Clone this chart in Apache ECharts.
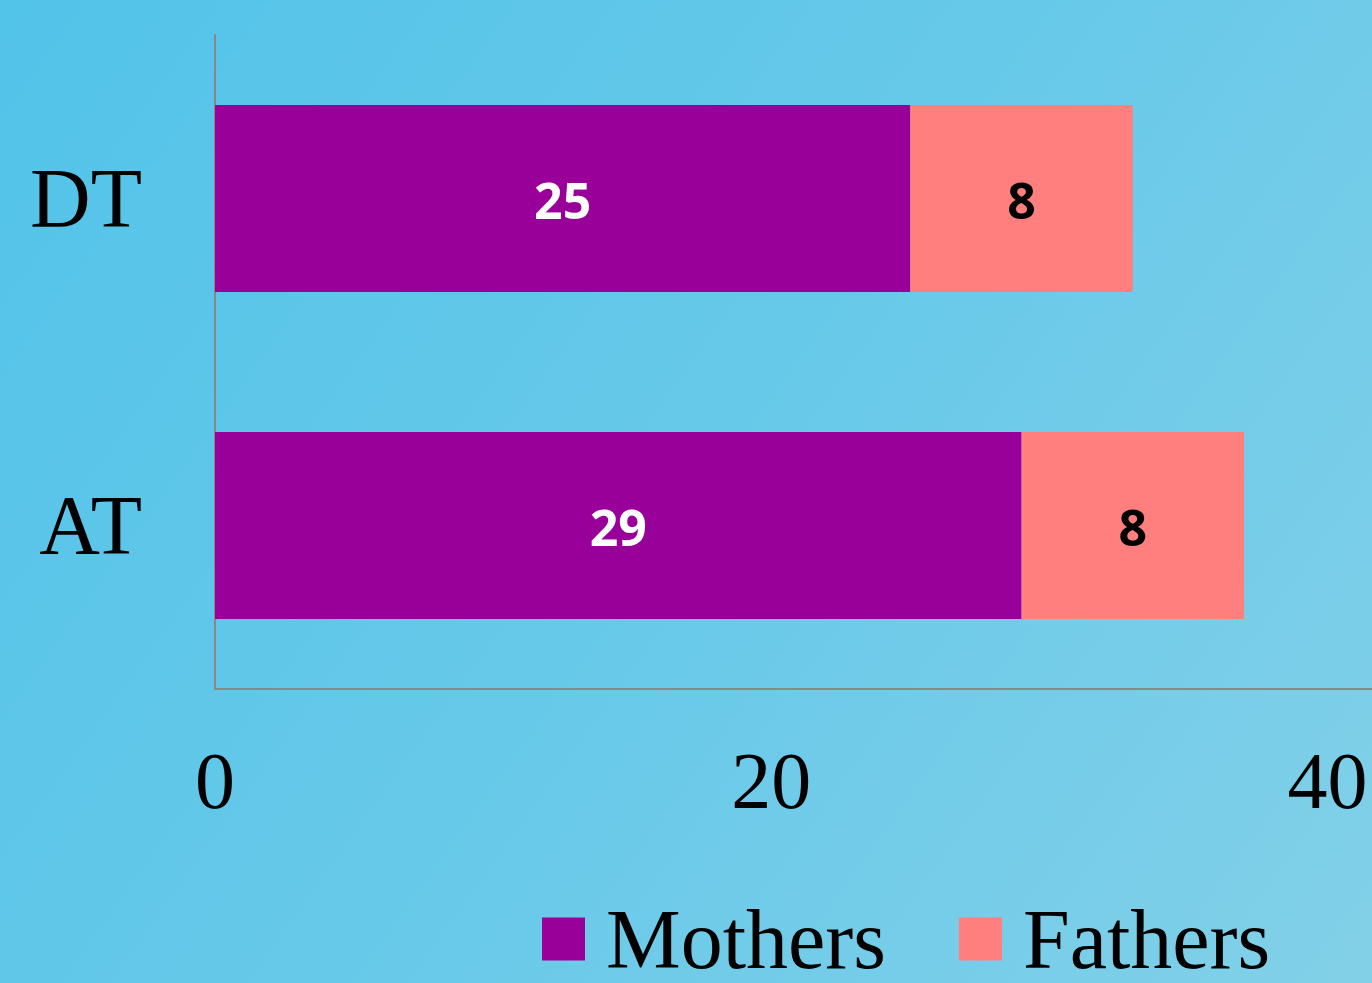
<!DOCTYPE html>
<html>
<head>
<meta charset="utf-8">
<script src="https://cdn.jsdelivr.net/npm/echarts@6/dist/echarts.min.js"></script>
<style>
  html, body { margin: 0; padding: 0; }
  #chart { width: 1372px; height: 983px; }
</style>
</head>
<body>
<div id="chart"></div>
<script>
// categories listed bottom to top
const categories = ["AT", "DT"];
const mothers = [29, 25];
const fathers = [8, 8];
const xTicks = [0, 20, 40];

const chart = echarts.init(document.getElementById("chart"));

const serifText = {
  fontFamily: "Liberation Serif",
  fontSize: 84,
  color: "#000"
};

const option = {
  backgroundColor: {
    type: "linear", x: 0, y: 0, x2: 1, y2: 1,
    colorStops: [
      { offset: 0, color: "#52c3e9" },
      { offset: 0.5, color: "#67c9e9" },
      { offset: 1, color: "#82d0e8" }
    ]
  },
  animation: false,
  grid: { left: 215, right: 0, top: 35, bottom: 294 },
  legend: {
    left: 537,
    top: 899,
    itemWidth: 43,
    itemHeight: 43,
    itemGap: 73,
    icon: "rect",
    formatter: "{t|{name}}",
    textStyle: {
      rich: {
        t: Object.assign({ padding: [14, 0, 0, 16] }, serifText)
      }
    },
    data: ["Mothers", "Fathers"]
  },
  xAxis: {
    type: "value",
    min: xTicks[0],
    max: 41.6,
    interval: xTicks[1] - xTicks[0],
    splitLine: { show: false },
    axisTick: { show: false },
    axisLine: { show: true, lineStyle: { color: "#888", width: 2 } },
    axisLabel: {
      showMaxLabel: false,
      margin: 58,
      fontFamily: "Liberation Serif",
      fontSize: 80,
      color: "#000"
    }
  },
  yAxis: {
    type: "category",
    data: categories,
    axisTick: { show: false },
    axisLine: { show: true, lineStyle: { color: "#888", width: 2 } },
    axisLabel: {
      margin: 73,
      formatter: "{t|{value}}",
      rich: {
        t: Object.assign({ padding: [12, 0, 0, 0] }, serifText)
      }
    }
  },
  series: [
    {
      name: "Mothers",
      type: "bar",
      stack: "total",
      barWidth: 187,
      data: mothers,
      itemStyle: { color: "#990099" },
      label: {
        show: true,
        position: "inside",
        offset: [0, 6],
        fontFamily: "Open Sans",
        fontWeight: "bold",
        fontSize: 50,
        color: "#fff"
      }
    },
    {
      name: "Fathers",
      type: "bar",
      stack: "total",
      barWidth: 187,
      data: fathers,
      itemStyle: { color: "#ff7f7f" },
      label: {
        show: true,
        position: "inside",
        offset: [0, 6],
        fontFamily: "Open Sans",
        fontWeight: "bold",
        fontSize: 50,
        color: "#000"
      }
    }
  ]
};

chart.setOption(option);
</script>
</body>
</html>
